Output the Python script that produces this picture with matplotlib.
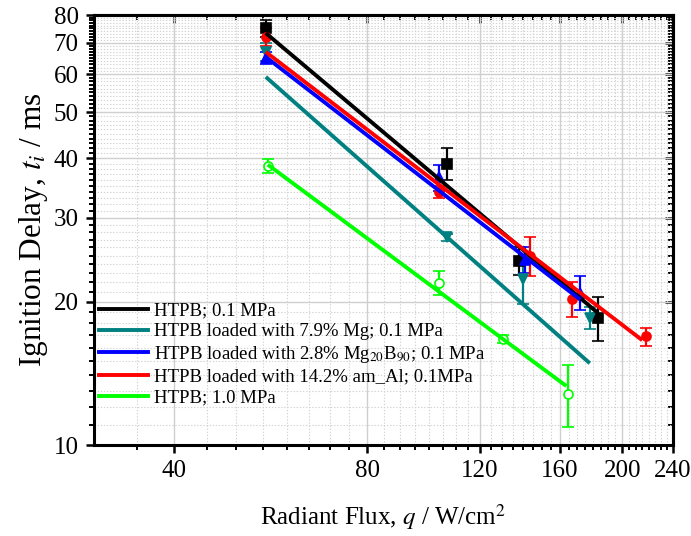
import matplotlib
matplotlib.use('Agg')
import matplotlib.pyplot as plt
from matplotlib.lines import Line2D
from matplotlib.ticker import FixedLocator, NullFormatter, FixedFormatter

plt.rcParams['font.family'] = ['Liberation Serif', 'DejaVu Serif']
plt.rcParams['mathtext.fontset'] = 'stix'

# ---------------- data ----------------
labels = ['HTPB; 0.1 MPa',
          'HTPB loaded with 7.9% Mg; 0.1 MPa',
          'HTPB loaded with 2.8% Mg$_{20}$B$_{90}$; 0.1 MPa',
          'HTPB loaded with 14.2% am_Al; 0.1MPa',
          'HTPB; 1.0 MPa']
colors = ['#000000', '#008080', '#0000FF', '#FF0000', '#00FF00']
markers = ['s', 'v', '^', 'o', 'o']
marker_fill = [True, True, True, True, False]

q_black = [55.6, 106.7, 137.9, 183.0]
t_black = [75.0, 39.0, 24.4, 18.5]
e_black = [3.0, 3.0, 1.6, 2.0]

q_teal = [55.6, 106.7, 140.0, 178.0]
t_teal = [67.0, 27.3, 22.3, 18.5]
e_teal = [3.0, 0.5, 2.5, 1.0]

q_blue = [55.6, 103.4, 141.0, 171.8]
t_blue = [65.0, 36.5, 24.5, 20.9]
e_blue = [2.0, 2.3, 1.5, 1.7]

q_red = [55.6, 103.4, 143.5, 167.0, 217.6]
t_red = [72.0, 34.0, 25.0, 20.3, 16.9]
e_red = [3.0, 1.0, 2.4, 1.7, 0.75]

q_green = [56.0, 103.4, 130.3, 164.6]
t_green = [38.6, 21.9, 16.7, 12.8]
e_green = [1.3, 1.25, 0.35, 1.9]

# power-law fit lines (end points)
fit_q_black = [55.6, 183.0]
fit_t_black = [73.3, 18.97]
fit_q_teal = [55.6, 178.0]
fit_t_teal = [59.3, 14.85]
fit_q_blue = [55.6, 172.0]
fit_t_blue = [65.3, 20.2]
fit_q_red = [55.6, 214.9]
fit_t_red = [66.9, 16.6]
fit_q_green = [56.0, 163.6]
fit_t_green = [38.8, 13.3]

x_major = [40, 80, 120, 160, 200, 240]
y_major = [10, 20, 30, 40, 50, 60, 70, 80]

series = [
    (q_black, t_black, e_black, fit_q_black, fit_t_black),
    (q_teal, t_teal, e_teal, fit_q_teal, fit_t_teal),
    (q_blue, t_blue, e_blue, fit_q_blue, fit_t_blue),
    (q_red, t_red, e_red, fit_q_red, fit_t_red),
    (q_green, t_green, e_green, fit_q_green, fit_t_green),
]

# ---------------- figure ----------------
fig = plt.figure(figsize=(6.91, 5.36), dpi=100)
ax = fig.add_axes([94 / 691, 1 - 445 / 536, (673 - 94) / 691, (445 - 15) / 536])
ax.set_xscale('log')
ax.set_yscale('log')
ax.set_xlim(30, 240)
ax.set_ylim(10, 80)

for i, (q, t, e, fq, ft) in enumerate(series):
    c = colors[i]
    ax.errorbar(q, t, yerr=e, fmt=markers[i], color=c, ecolor=c,
                mfc=c if marker_fill[i] else 'white', mec=c, ms=6.5, mew=1.2,
                elinewidth=1.6, capsize=4.5, capthick=1.6, zorder=3)
    ax.plot(fq, ft, color=c, lw=2.8, solid_capstyle='butt', zorder=4)

x_minor = [v for v in range(35, 240, 5) if v not in x_major]
y_minor = [v for v in range(11, 80) if v not in y_major]
ax.xaxis.set_major_locator(FixedLocator(x_major))
ax.xaxis.set_major_formatter(FixedFormatter([str(v) for v in x_major]))
ax.xaxis.set_minor_locator(FixedLocator(x_minor))
ax.xaxis.set_minor_formatter(NullFormatter())
ax.yaxis.set_major_locator(FixedLocator(y_major))
ax.yaxis.set_major_formatter(FixedFormatter([str(v) for v in y_major]))
ax.yaxis.set_minor_locator(FixedLocator(y_minor))
ax.yaxis.set_minor_formatter(NullFormatter())

ax.grid(which='major', color='#cfcfcf', lw=1.0, ls='-', zorder=0)
ax.grid(which='minor', color='#d2d2d2', lw=0.8, ls=(0, (1.2, 1.6)), zorder=0)
ax.set_axisbelow(True)

ax.tick_params(which='major', direction='out', length=6, width=1.8, labelsize=18, pad=5)
ax.tick_params(which='minor', direction='out', length=3.5, width=1.4)
for s in ax.spines.values():
    s.set_linewidth(2.2)

# mirrored axes with inward ticks
secx = ax.secondary_xaxis('top')
secx.xaxis.set_major_locator(FixedLocator(x_major))
secx.xaxis.set_minor_locator(FixedLocator(x_minor))
secx.xaxis.set_major_formatter(NullFormatter())
secx.xaxis.set_minor_formatter(NullFormatter())
secx.tick_params(which='major', direction='in', length=6, width=1.8)
secx.tick_params(which='minor', direction='in', length=3.5, width=1.4)
secx.spines['top'].set_linewidth(2.2)
secy = ax.secondary_yaxis('right')
secy.yaxis.set_major_locator(FixedLocator(y_major))
secy.yaxis.set_minor_locator(FixedLocator(y_minor))
secy.yaxis.set_major_formatter(NullFormatter())
secy.yaxis.set_minor_formatter(NullFormatter())
secy.tick_params(which='major', direction='in', length=6, width=1.8)
secy.tick_params(which='minor', direction='in', length=3.5, width=1.4)
secy.spines['right'].set_linewidth(2.2)

ax.set_xlabel('Radiant Flux, $q$ / W/cm$^2$', fontsize=18, labelpad=14)
ax.set_ylabel('Ignition Delay, $t_i$ / ms', fontsize=22.5, labelpad=3)

handles = [Line2D([], [], color=c, lw=2.8) for c in colors]
ax.legend(handles, labels, loc='upper left', bbox_to_anchor=(0.009, 0.332),
          frameon=False, fontsize=13.5, handlelength=2.6, handletextpad=0.3,
          labelspacing=0.2, borderaxespad=0, borderpad=0)

fig.savefig('out.png', dpi=100)
